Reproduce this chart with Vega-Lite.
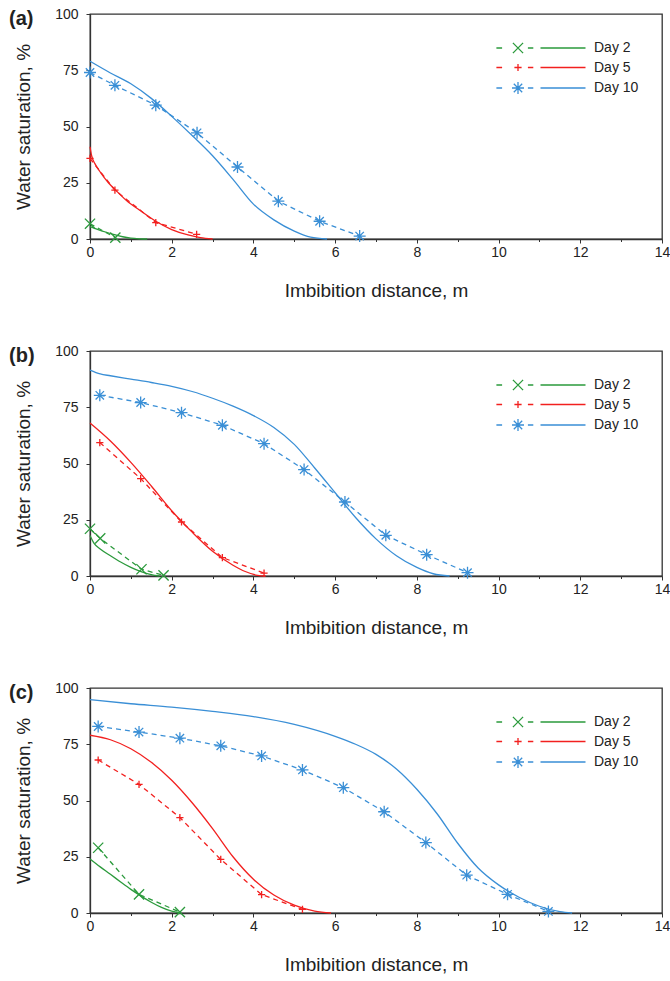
{
  "$schema": "https://vega.github.io/schema/vega-lite/v6.json",
  "padding": {"left": 8, "top": 6, "right": 5, "bottom": 0},
  "spacing": 42,
  "datasets": {
    "meas": [
      {"p": "a", "day": "Day 2", "x": 0, "y": 6.8},
      {"p": "a", "day": "Day 2", "x": 0.62, "y": 0.6},
      {"p": "a", "day": "Day 5", "x": 0, "y": 35.8},
      {"p": "a", "day": "Day 5", "x": 0.61, "y": 21.7},
      {"p": "a", "day": "Day 5", "x": 1.61, "y": 7.3},
      {"p": "a", "day": "Day 5", "x": 2.61, "y": 2.1},
      {"p": "a", "day": "Day 10", "x": 0, "y": 74},
      {"p": "a", "day": "Day 10", "x": 0.61, "y": 68.3},
      {"p": "a", "day": "Day 10", "x": 1.61, "y": 59.5},
      {"p": "a", "day": "Day 10", "x": 2.62, "y": 47.2},
      {"p": "a", "day": "Day 10", "x": 3.61, "y": 32},
      {"p": "a", "day": "Day 10", "x": 4.61, "y": 16.8},
      {"p": "a", "day": "Day 10", "x": 5.62, "y": 7.9},
      {"p": "a", "day": "Day 10", "x": 6.6, "y": 1.3},
      {"p": "b", "day": "Day 2", "x": 0, "y": 21},
      {"p": "b", "day": "Day 2", "x": 0.25, "y": 16.7},
      {"p": "b", "day": "Day 2", "x": 1.26, "y": 3},
      {"p": "b", "day": "Day 2", "x": 1.8, "y": 0.3},
      {"p": "b", "day": "Day 5", "x": 0.24, "y": 59.3},
      {"p": "b", "day": "Day 5", "x": 1.24, "y": 43.3},
      {"p": "b", "day": "Day 5", "x": 2.24, "y": 24},
      {"p": "b", "day": "Day 5", "x": 3.24, "y": 8.2},
      {"p": "b", "day": "Day 5", "x": 4.26, "y": 1.3},
      {"p": "b", "day": "Day 10", "x": 0.24, "y": 80.3},
      {"p": "b", "day": "Day 10", "x": 1.24, "y": 77.1},
      {"p": "b", "day": "Day 10", "x": 2.24, "y": 72.6},
      {"p": "b", "day": "Day 10", "x": 3.24, "y": 67},
      {"p": "b", "day": "Day 10", "x": 4.26, "y": 58.8},
      {"p": "b", "day": "Day 10", "x": 5.24, "y": 47.3},
      {"p": "b", "day": "Day 10", "x": 6.24, "y": 32.9},
      {"p": "b", "day": "Day 10", "x": 7.24, "y": 18.1},
      {"p": "b", "day": "Day 10", "x": 8.24, "y": 9.5},
      {"p": "b", "day": "Day 10", "x": 9.24, "y": 1.5},
      {"p": "c", "day": "Day 2", "x": 0.2, "y": 29},
      {"p": "c", "day": "Day 2", "x": 1.2, "y": 8.3},
      {"p": "c", "day": "Day 2", "x": 2.2, "y": 0.4},
      {"p": "c", "day": "Day 5", "x": 0.2, "y": 68},
      {"p": "c", "day": "Day 5", "x": 1.2, "y": 57.2},
      {"p": "c", "day": "Day 5", "x": 2.2, "y": 42.4},
      {"p": "c", "day": "Day 5", "x": 3.2, "y": 23.8},
      {"p": "c", "day": "Day 5", "x": 4.2, "y": 8.2},
      {"p": "c", "day": "Day 5", "x": 5.2, "y": 1.6},
      {"p": "c", "day": "Day 10", "x": 0.2, "y": 82.9},
      {"p": "c", "day": "Day 10", "x": 1.2, "y": 80.4},
      {"p": "c", "day": "Day 10", "x": 2.2, "y": 77.7},
      {"p": "c", "day": "Day 10", "x": 3.2, "y": 74.3},
      {"p": "c", "day": "Day 10", "x": 4.2, "y": 69.8},
      {"p": "c", "day": "Day 10", "x": 5.2, "y": 63.6},
      {"p": "c", "day": "Day 10", "x": 6.2, "y": 55.7},
      {"p": "c", "day": "Day 10", "x": 7.2, "y": 45},
      {"p": "c", "day": "Day 10", "x": 8.22, "y": 31.3},
      {"p": "c", "day": "Day 10", "x": 9.22, "y": 16.8},
      {"p": "c", "day": "Day 10", "x": 10.22, "y": 8.3},
      {"p": "c", "day": "Day 10", "x": 11.22, "y": 0.7}
    ],
    "model": [
      {"p": "a", "day": "Day 2", "x": 0, "y": 5.5},
      {"p": "a", "day": "Day 2", "x": 0.2, "y": 4.2},
      {"p": "a", "day": "Day 2", "x": 0.4, "y": 3},
      {"p": "a", "day": "Day 2", "x": 0.6, "y": 1.9},
      {"p": "a", "day": "Day 2", "x": 0.8, "y": 1},
      {"p": "a", "day": "Day 2", "x": 1.0, "y": 0.4},
      {"p": "a", "day": "Day 2", "x": 1.2, "y": 0.1},
      {"p": "a", "day": "Day 2", "x": 1.4, "y": 0},
      {"p": "a", "day": "Day 5", "x": 0, "y": 41},
      {"p": "a", "day": "Day 5", "x": 0.04, "y": 37},
      {"p": "a", "day": "Day 5", "x": 0.12, "y": 33.5},
      {"p": "a", "day": "Day 5", "x": 0.26, "y": 29.5},
      {"p": "a", "day": "Day 5", "x": 0.45, "y": 25},
      {"p": "a", "day": "Day 5", "x": 0.63, "y": 21.7},
      {"p": "a", "day": "Day 5", "x": 0.9, "y": 17},
      {"p": "a", "day": "Day 5", "x": 1.2, "y": 13},
      {"p": "a", "day": "Day 5", "x": 1.6, "y": 8},
      {"p": "a", "day": "Day 5", "x": 2.0, "y": 4.2},
      {"p": "a", "day": "Day 5", "x": 2.4, "y": 1.8},
      {"p": "a", "day": "Day 5", "x": 2.7, "y": 0.6},
      {"p": "a", "day": "Day 5", "x": 3.0, "y": 0},
      {"p": "a", "day": "Day 10", "x": 0, "y": 79},
      {"p": "a", "day": "Day 10", "x": 0.5, "y": 73.8},
      {"p": "a", "day": "Day 10", "x": 1.0, "y": 69},
      {"p": "a", "day": "Day 10", "x": 1.5, "y": 62.5},
      {"p": "a", "day": "Day 10", "x": 2.0, "y": 54.5},
      {"p": "a", "day": "Day 10", "x": 2.5, "y": 46},
      {"p": "a", "day": "Day 10", "x": 3.0, "y": 37},
      {"p": "a", "day": "Day 10", "x": 3.5, "y": 26.5},
      {"p": "a", "day": "Day 10", "x": 4.0, "y": 15.5},
      {"p": "a", "day": "Day 10", "x": 4.5, "y": 8.5},
      {"p": "a", "day": "Day 10", "x": 5.0, "y": 3.5},
      {"p": "a", "day": "Day 10", "x": 5.4, "y": 0.8},
      {"p": "a", "day": "Day 10", "x": 5.8, "y": 0},
      {"p": "b", "day": "Day 2", "x": 0, "y": 18},
      {"p": "b", "day": "Day 2", "x": 0.1, "y": 14.5},
      {"p": "b", "day": "Day 2", "x": 0.25, "y": 12},
      {"p": "b", "day": "Day 2", "x": 0.5, "y": 9},
      {"p": "b", "day": "Day 2", "x": 0.75, "y": 6.2},
      {"p": "b", "day": "Day 2", "x": 1.0, "y": 3.8},
      {"p": "b", "day": "Day 2", "x": 1.25, "y": 1.9},
      {"p": "b", "day": "Day 2", "x": 1.5, "y": 0.6},
      {"p": "b", "day": "Day 2", "x": 1.7, "y": 0},
      {"p": "b", "day": "Day 5", "x": 0, "y": 68},
      {"p": "b", "day": "Day 5", "x": 0.5, "y": 60},
      {"p": "b", "day": "Day 5", "x": 1.0, "y": 50.5},
      {"p": "b", "day": "Day 5", "x": 1.5, "y": 40},
      {"p": "b", "day": "Day 5", "x": 2.0, "y": 29},
      {"p": "b", "day": "Day 5", "x": 2.5, "y": 19.5},
      {"p": "b", "day": "Day 5", "x": 3.0, "y": 11},
      {"p": "b", "day": "Day 5", "x": 3.5, "y": 4.8},
      {"p": "b", "day": "Day 5", "x": 3.8, "y": 2},
      {"p": "b", "day": "Day 5", "x": 4.1, "y": 0.3},
      {"p": "b", "day": "Day 5", "x": 4.3, "y": 0},
      {"p": "b", "day": "Day 10", "x": 0, "y": 91.5},
      {"p": "b", "day": "Day 10", "x": 0.25, "y": 89.8},
      {"p": "b", "day": "Day 10", "x": 0.5, "y": 89},
      {"p": "b", "day": "Day 10", "x": 1.0, "y": 87.5},
      {"p": "b", "day": "Day 10", "x": 1.5, "y": 86},
      {"p": "b", "day": "Day 10", "x": 2.0, "y": 84.3},
      {"p": "b", "day": "Day 10", "x": 2.5, "y": 82},
      {"p": "b", "day": "Day 10", "x": 3.0, "y": 79},
      {"p": "b", "day": "Day 10", "x": 3.5, "y": 75.5},
      {"p": "b", "day": "Day 10", "x": 4.0, "y": 71.3},
      {"p": "b", "day": "Day 10", "x": 4.5, "y": 66},
      {"p": "b", "day": "Day 10", "x": 5.0, "y": 58.5},
      {"p": "b", "day": "Day 10", "x": 5.5, "y": 48},
      {"p": "b", "day": "Day 10", "x": 6.0, "y": 37},
      {"p": "b", "day": "Day 10", "x": 6.5, "y": 26},
      {"p": "b", "day": "Day 10", "x": 7.0, "y": 16.5},
      {"p": "b", "day": "Day 10", "x": 7.5, "y": 9},
      {"p": "b", "day": "Day 10", "x": 8.0, "y": 3.8},
      {"p": "b", "day": "Day 10", "x": 8.4, "y": 1},
      {"p": "b", "day": "Day 10", "x": 8.8, "y": 0},
      {"p": "c", "day": "Day 2", "x": 0, "y": 24},
      {"p": "c", "day": "Day 2", "x": 0.25, "y": 20.5},
      {"p": "c", "day": "Day 2", "x": 0.5, "y": 17.2},
      {"p": "c", "day": "Day 2", "x": 0.75, "y": 13.8},
      {"p": "c", "day": "Day 2", "x": 1.0, "y": 10.5},
      {"p": "c", "day": "Day 2", "x": 1.25, "y": 7.5},
      {"p": "c", "day": "Day 2", "x": 1.5, "y": 4.8},
      {"p": "c", "day": "Day 2", "x": 1.75, "y": 2.5},
      {"p": "c", "day": "Day 2", "x": 2.0, "y": 0.8},
      {"p": "c", "day": "Day 2", "x": 2.2, "y": 0},
      {"p": "c", "day": "Day 5", "x": 0, "y": 79},
      {"p": "c", "day": "Day 5", "x": 0.5, "y": 77},
      {"p": "c", "day": "Day 5", "x": 1.0, "y": 73},
      {"p": "c", "day": "Day 5", "x": 1.5, "y": 67},
      {"p": "c", "day": "Day 5", "x": 2.0, "y": 59},
      {"p": "c", "day": "Day 5", "x": 2.5, "y": 49},
      {"p": "c", "day": "Day 5", "x": 3.0, "y": 37.5},
      {"p": "c", "day": "Day 5", "x": 3.5, "y": 25},
      {"p": "c", "day": "Day 5", "x": 4.0, "y": 15},
      {"p": "c", "day": "Day 5", "x": 4.5, "y": 8},
      {"p": "c", "day": "Day 5", "x": 5.0, "y": 3.5},
      {"p": "c", "day": "Day 5", "x": 5.5, "y": 0.8},
      {"p": "c", "day": "Day 5", "x": 5.9, "y": 0},
      {"p": "c", "day": "Day 10", "x": 0, "y": 94.8},
      {"p": "c", "day": "Day 10", "x": 1.0, "y": 93},
      {"p": "c", "day": "Day 10", "x": 2.0, "y": 91.5},
      {"p": "c", "day": "Day 10", "x": 3.0, "y": 89.6},
      {"p": "c", "day": "Day 10", "x": 4.0, "y": 87.3},
      {"p": "c", "day": "Day 10", "x": 5.0, "y": 83.8},
      {"p": "c", "day": "Day 10", "x": 6.0, "y": 78.5},
      {"p": "c", "day": "Day 10", "x": 6.5, "y": 75},
      {"p": "c", "day": "Day 10", "x": 7.0, "y": 70.5},
      {"p": "c", "day": "Day 10", "x": 7.5, "y": 64},
      {"p": "c", "day": "Day 10", "x": 8.0, "y": 55},
      {"p": "c", "day": "Day 10", "x": 8.5, "y": 44},
      {"p": "c", "day": "Day 10", "x": 9.0, "y": 31},
      {"p": "c", "day": "Day 10", "x": 9.5, "y": 20},
      {"p": "c", "day": "Day 10", "x": 10.0, "y": 12.5},
      {"p": "c", "day": "Day 10", "x": 10.5, "y": 7},
      {"p": "c", "day": "Day 10", "x": 11.0, "y": 3},
      {"p": "c", "day": "Day 10", "x": 11.5, "y": 0.6},
      {"p": "c", "day": "Day 10", "x": 11.8, "y": 0}
    ]
  },
  "resolve": {"scale": {"color": "independent"}, "legend": {"color": "independent"}},
  "vconcat": [
    {
      "width": 572, "height": 225,
      "title": {"text": "(a)", "anchor": "start", "frame": "group", "orient": "top", "fontSize": 20, "fontWeight": "bold", "color": "#222", "baseline": "middle", "offset": 0, "dx": -81, "dy": 32},
      "layer": [
        {"data": {"name": "model"}, "transform": [{"filter": "datum.p === 'a'"}],
         "mark": {"type": "line", "interpolate": "monotone", "strokeWidth": 1.3},
         "encoding": {
           "x": {"field": "x", "type": "quantitative", "scale": {"domain": [0, 14], "nice": false}, "axis": {"title": "Imbibition distance, m", "values": [0,1,2,3,4,5,6,7,8,9,10,11,12,13,14], "labelExpr": "datum.value % 2 === 0 ? datum.label : ''", "tickSize": {"condition": {"test": "datum.value % 2 !== 0", "value": 2.5}, "value": 4}}},
           "y": {"field": "y", "type": "quantitative", "scale": {"domain": [0, 100], "nice": false}, "axis": {"title": "Water saturation, %", "values": [0,12.5,25,37.5,50,62.5,75,87.5,100], "labelExpr": "datum.value % 25 === 0 ? datum.label : ''", "tickSize": {"condition": {"test": "datum.value % 25 !== 0", "value": 2.5}, "value": 4}}},
           "color": {"field": "day", "type": "nominal", "scale": {"domain": ["Day 2", "Day 5", "Day 10"], "range": ["#2b9a3c", "#f2201f", "#3a8fd6"]},
             "legend": {"orient": "none", "legendX": 421, "legendY": 27, "title": null, "padding": 0, "symbolSize": 144, "symbolStrokeWidth": 1.3, "labelOffset": 69, "labelFontSize": 14, "labelColor": "#222", "rowPadding": 4.5, "symbolFillColor": "transparent",
               "encode": {"symbols": {"update": {"shape": {"signal": "datum.value === 'Day 2' ? 'M-3.6,0L-2.65,0M-0.85,-0.85L0.85,0.85M-0.85,0.85L0.85,-0.85M1.65,0L2.55,0M3.75,0L11.25,0' : datum.value === 'Day 5' ? 'M-3.6,0L-2.65,0M-0.6,0L0.6,0M0,-0.6L0,0.6M1.65,0L2.55,0M3.75,0L11.25,0' : 'M-3.6,0L-2.65,0M-1,0L1,0M0,-1L0,1M-0.7,-0.7L0.7,0.7M-0.7,0.7L0.7,-0.7M1.65,0L2.55,0M3.75,0L11.25,0'"}}}}}}
         }},
        {"data": {"name": "meas"}, "transform": [{"filter": "datum.p === 'a'"}],
         "mark": {"type": "line", "strokeDash": [5, 4], "strokeWidth": 1.3},
         "encoding": {"x": {"field": "x", "type": "quantitative"}, "y": {"field": "y", "type": "quantitative"}, "color": {"field": "day", "type": "nominal", "legend": null}}},
        {"data": {"name": "meas"}, "transform": [{"filter": "datum.p === 'a' && datum.day === 'Day 2'"}],
         "mark": {"type": "point", "filled": false, "size": 144, "strokeWidth": 1.3, "opacity": 1, "shape": "M-0.85,-0.85L0.85,0.85M-0.85,0.85L0.85,-0.85"},
         "encoding": {"x": {"field": "x", "type": "quantitative"}, "y": {"field": "y", "type": "quantitative"}, "color": {"field": "day", "type": "nominal", "legend": null}}},
        {"data": {"name": "meas"}, "transform": [{"filter": "datum.p === 'a' && datum.day === 'Day 5'"}],
         "mark": {"type": "point", "filled": false, "size": 144, "strokeWidth": 1.3, "opacity": 1, "shape": "M-0.6,0L0.6,0M0,-0.6L0,0.6"},
         "encoding": {"x": {"field": "x", "type": "quantitative"}, "y": {"field": "y", "type": "quantitative"}, "color": {"field": "day", "type": "nominal", "legend": null}}},
        {"data": {"name": "meas"}, "transform": [{"filter": "datum.p === 'a' && datum.day === 'Day 10'"}],
         "mark": {"type": "point", "filled": false, "size": 144, "strokeWidth": 1.3, "opacity": 1, "shape": "M-1,0L1,0M0,-1L0,1M-0.7,-0.7L0.7,0.7M-0.7,0.7L0.7,-0.7"},
         "encoding": {"x": {"field": "x", "type": "quantitative"}, "y": {"field": "y", "type": "quantitative"}, "color": {"field": "day", "type": "nominal", "legend": null}}}
      ]
    },
    {
      "width": 572, "height": 225,
      "title": {"text": "(b)", "anchor": "start", "frame": "group", "orient": "top", "fontSize": 20, "fontWeight": "bold", "color": "#222", "baseline": "middle", "offset": 0, "dx": -81, "dy": 32},
      "layer": [
        {"data": {"name": "model"}, "transform": [{"filter": "datum.p === 'b'"}],
         "mark": {"type": "line", "interpolate": "monotone", "strokeWidth": 1.3},
         "encoding": {
           "x": {"field": "x", "type": "quantitative", "scale": {"domain": [0, 14], "nice": false}, "axis": {"title": "Imbibition distance, m", "values": [0,1,2,3,4,5,6,7,8,9,10,11,12,13,14], "labelExpr": "datum.value % 2 === 0 ? datum.label : ''", "tickSize": {"condition": {"test": "datum.value % 2 !== 0", "value": 2.5}, "value": 4}}},
           "y": {"field": "y", "type": "quantitative", "scale": {"domain": [0, 100], "nice": false}, "axis": {"title": "Water saturation, %", "values": [0,12.5,25,37.5,50,62.5,75,87.5,100], "labelExpr": "datum.value % 25 === 0 ? datum.label : ''", "tickSize": {"condition": {"test": "datum.value % 25 !== 0", "value": 2.5}, "value": 4}}},
           "color": {"field": "day", "type": "nominal", "scale": {"domain": ["Day 2", "Day 5", "Day 10"], "range": ["#2b9a3c", "#f2201f", "#3a8fd6"]},
             "legend": {"orient": "none", "legendX": 421, "legendY": 27, "title": null, "padding": 0, "symbolSize": 144, "symbolStrokeWidth": 1.3, "labelOffset": 69, "labelFontSize": 14, "labelColor": "#222", "rowPadding": 4.5, "symbolFillColor": "transparent",
               "encode": {"symbols": {"update": {"shape": {"signal": "datum.value === 'Day 2' ? 'M-3.6,0L-2.65,0M-0.85,-0.85L0.85,0.85M-0.85,0.85L0.85,-0.85M1.65,0L2.55,0M3.75,0L11.25,0' : datum.value === 'Day 5' ? 'M-3.6,0L-2.65,0M-0.6,0L0.6,0M0,-0.6L0,0.6M1.65,0L2.55,0M3.75,0L11.25,0' : 'M-3.6,0L-2.65,0M-1,0L1,0M0,-1L0,1M-0.7,-0.7L0.7,0.7M-0.7,0.7L0.7,-0.7M1.65,0L2.55,0M3.75,0L11.25,0'"}}}}}}
         }},
        {"data": {"name": "meas"}, "transform": [{"filter": "datum.p === 'b'"}],
         "mark": {"type": "line", "strokeDash": [5, 4], "strokeWidth": 1.3},
         "encoding": {"x": {"field": "x", "type": "quantitative"}, "y": {"field": "y", "type": "quantitative"}, "color": {"field": "day", "type": "nominal", "legend": null}}},
        {"data": {"name": "meas"}, "transform": [{"filter": "datum.p === 'b' && datum.day === 'Day 2'"}],
         "mark": {"type": "point", "filled": false, "size": 144, "strokeWidth": 1.3, "opacity": 1, "shape": "M-0.85,-0.85L0.85,0.85M-0.85,0.85L0.85,-0.85"},
         "encoding": {"x": {"field": "x", "type": "quantitative"}, "y": {"field": "y", "type": "quantitative"}, "color": {"field": "day", "type": "nominal", "legend": null}}},
        {"data": {"name": "meas"}, "transform": [{"filter": "datum.p === 'b' && datum.day === 'Day 5'"}],
         "mark": {"type": "point", "filled": false, "size": 144, "strokeWidth": 1.3, "opacity": 1, "shape": "M-0.6,0L0.6,0M0,-0.6L0,0.6"},
         "encoding": {"x": {"field": "x", "type": "quantitative"}, "y": {"field": "y", "type": "quantitative"}, "color": {"field": "day", "type": "nominal", "legend": null}}},
        {"data": {"name": "meas"}, "transform": [{"filter": "datum.p === 'b' && datum.day === 'Day 10'"}],
         "mark": {"type": "point", "filled": false, "size": 144, "strokeWidth": 1.3, "opacity": 1, "shape": "M-1,0L1,0M0,-1L0,1M-0.7,-0.7L0.7,0.7M-0.7,0.7L0.7,-0.7"},
         "encoding": {"x": {"field": "x", "type": "quantitative"}, "y": {"field": "y", "type": "quantitative"}, "color": {"field": "day", "type": "nominal", "legend": null}}}
      ]
    },
    {
      "width": 572, "height": 225,
      "title": {"text": "(c)", "anchor": "start", "frame": "group", "orient": "top", "fontSize": 20, "fontWeight": "bold", "color": "#222", "baseline": "middle", "offset": 0, "dx": -81, "dy": 32},
      "layer": [
        {"data": {"name": "model"}, "transform": [{"filter": "datum.p === 'c'"}],
         "mark": {"type": "line", "interpolate": "monotone", "strokeWidth": 1.3},
         "encoding": {
           "x": {"field": "x", "type": "quantitative", "scale": {"domain": [0, 14], "nice": false}, "axis": {"title": "Imbibition distance, m", "values": [0,1,2,3,4,5,6,7,8,9,10,11,12,13,14], "labelExpr": "datum.value % 2 === 0 ? datum.label : ''", "tickSize": {"condition": {"test": "datum.value % 2 !== 0", "value": 2.5}, "value": 4}}},
           "y": {"field": "y", "type": "quantitative", "scale": {"domain": [0, 100], "nice": false}, "axis": {"title": "Water saturation, %", "values": [0,12.5,25,37.5,50,62.5,75,87.5,100], "labelExpr": "datum.value % 25 === 0 ? datum.label : ''", "tickSize": {"condition": {"test": "datum.value % 25 !== 0", "value": 2.5}, "value": 4}}},
           "color": {"field": "day", "type": "nominal", "scale": {"domain": ["Day 2", "Day 5", "Day 10"], "range": ["#2b9a3c", "#f2201f", "#3a8fd6"]},
             "legend": {"orient": "none", "legendX": 421, "legendY": 27, "title": null, "padding": 0, "symbolSize": 144, "symbolStrokeWidth": 1.3, "labelOffset": 69, "labelFontSize": 14, "labelColor": "#222", "rowPadding": 4.5, "symbolFillColor": "transparent",
               "encode": {"symbols": {"update": {"shape": {"signal": "datum.value === 'Day 2' ? 'M-3.6,0L-2.65,0M-0.85,-0.85L0.85,0.85M-0.85,0.85L0.85,-0.85M1.65,0L2.55,0M3.75,0L11.25,0' : datum.value === 'Day 5' ? 'M-3.6,0L-2.65,0M-0.6,0L0.6,0M0,-0.6L0,0.6M1.65,0L2.55,0M3.75,0L11.25,0' : 'M-3.6,0L-2.65,0M-1,0L1,0M0,-1L0,1M-0.7,-0.7L0.7,0.7M-0.7,0.7L0.7,-0.7M1.65,0L2.55,0M3.75,0L11.25,0'"}}}}}}
         }},
        {"data": {"name": "meas"}, "transform": [{"filter": "datum.p === 'c'"}],
         "mark": {"type": "line", "strokeDash": [5, 4], "strokeWidth": 1.3},
         "encoding": {"x": {"field": "x", "type": "quantitative"}, "y": {"field": "y", "type": "quantitative"}, "color": {"field": "day", "type": "nominal", "legend": null}}},
        {"data": {"name": "meas"}, "transform": [{"filter": "datum.p === 'c' && datum.day === 'Day 2'"}],
         "mark": {"type": "point", "filled": false, "size": 144, "strokeWidth": 1.3, "opacity": 1, "shape": "M-0.85,-0.85L0.85,0.85M-0.85,0.85L0.85,-0.85"},
         "encoding": {"x": {"field": "x", "type": "quantitative"}, "y": {"field": "y", "type": "quantitative"}, "color": {"field": "day", "type": "nominal", "legend": null}}},
        {"data": {"name": "meas"}, "transform": [{"filter": "datum.p === 'c' && datum.day === 'Day 5'"}],
         "mark": {"type": "point", "filled": false, "size": 144, "strokeWidth": 1.3, "opacity": 1, "shape": "M-0.6,0L0.6,0M0,-0.6L0,0.6"},
         "encoding": {"x": {"field": "x", "type": "quantitative"}, "y": {"field": "y", "type": "quantitative"}, "color": {"field": "day", "type": "nominal", "legend": null}}},
        {"data": {"name": "meas"}, "transform": [{"filter": "datum.p === 'c' && datum.day === 'Day 10'"}],
         "mark": {"type": "point", "filled": false, "size": 144, "strokeWidth": 1.3, "opacity": 1, "shape": "M-1,0L1,0M0,-1L0,1M-0.7,-0.7L0.7,0.7M-0.7,0.7L0.7,-0.7"},
         "encoding": {"x": {"field": "x", "type": "quantitative"}, "y": {"field": "y", "type": "quantitative"}, "color": {"field": "day", "type": "nominal", "legend": null}}}
      ]
    }
  ],
  "config": {
    "font": "Liberation Sans",
    "view": {"stroke": "#333", "strokeWidth": 1.3},
    "axis": {"domainColor": "#333", "domainWidth": 1.3, "tickColor": "#333", "tickWidth": 1, "labelFontSize": 14, "labelColor": "#222", "labelFont": "Liberation Sans", "titleFont": "Liberation Sans", "titleFontSize": 19, "titleFontWeight": "normal", "titleColor": "#222", "grid": false, "labelOverlap": false},
    "axisX": {"labelPadding": 2, "titlePadding": 22, "labelFlush": false},
    "axisY": {"labelPadding": 8, "titlePadding": 21},
    "legend": {"labelFont": "Liberation Sans"}
  }
}
